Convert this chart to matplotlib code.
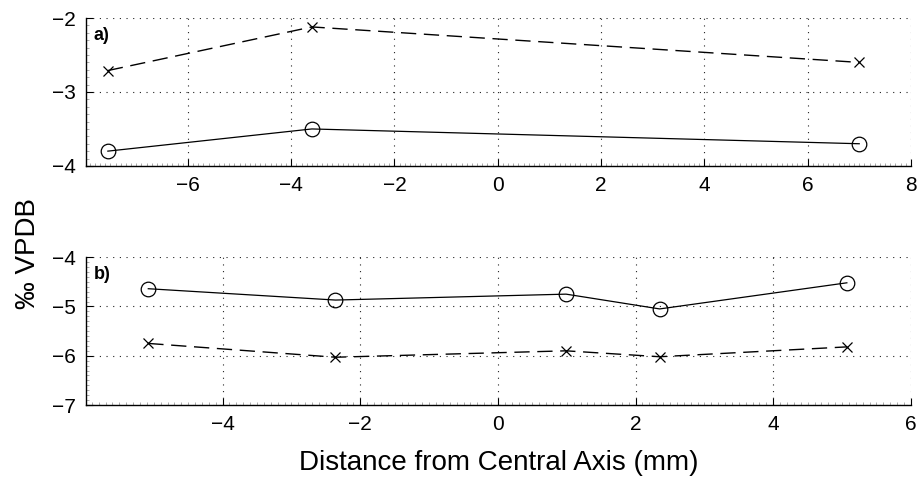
import matplotlib
matplotlib.use("Agg")
import matplotlib.pyplot as plt
from matplotlib.ticker import MultipleLocator

plt.rcParams['font.family'] = ['Liberation Sans', 'DejaVu Sans']

# Panel a
xa = [-7.55, -3.6, 7.0]
a_circle = [-3.80, -3.50, -3.70]
a_cross = [-2.71, -2.12, -2.60]

# Panel b
xb = [-5.08, -2.36, 0.99, 2.35, 5.07]
b_circle = [-4.64, -4.87, -4.75, -5.05, -4.52]
b_cross = [-5.75, -6.03, -5.90, -6.02, -5.82]

xticks_a = [-6, -4, -2, 0, 2, 4, 6, 8]
yticks_a = [-4, -3, -2]
xticks_b = [-4, -2, 0, 2, 4, 6]
yticks_b = [-7, -6, -5, -4]

fig = plt.figure(figsize=(9.21, 4.88), dpi=100)
ax1 = fig.add_axes([0.093, 0.660, 0.896, 0.303])
ax2 = fig.add_axes([0.093, 0.170, 0.896, 0.303])

def fmt(t):
    return ('\u2212' + str(abs(t))) if t < 0 else str(t)

def style(ax, xlim, ylim, xticks, yticks, label):
    ax.set_xlim(*xlim)
    ax.set_ylim(*ylim)
    ax.set_xticks(xticks)
    ax.set_yticks(yticks)
    ax.xaxis.set_minor_locator(MultipleLocator(0.1))
    ax.yaxis.set_minor_locator(MultipleLocator(0.1))
    ax.grid(True, which='major', linestyle=(0, (1, 5)), color='#222222', linewidth=0.8)
    for s in ['top', 'right']:
        ax.spines[s].set_visible(False)
    for s in ['left', 'bottom']:
        ax.spines[s].set_linewidth(1.0)
    ax.tick_params(which='major', direction='in', length=5, width=0.8, labelsize=15,
                   top=False, right=False, pad=7)
    ax.tick_params(which='minor', direction='in', length=2, width=0.5, color='#888888',
                   top=False, right=False)
    ax.set_xticklabels([fmt(t) for t in xticks])
    ax.set_yticklabels([fmt(t) for t in yticks])
    ax.text(8 / ax.bbox.width * 1.0, 1 - 9 / (0.303 * 488), label, transform=ax.transAxes,
            fontsize=13, fontweight='bold', va='top', ha='left')

ax1.plot(xa, a_circle, color='black', linewidth=0.9, marker='o', markersize=10.5,
         markerfacecolor='none', markeredgewidth=0.9)
ax1.plot(xa, a_cross, color='black', linewidth=1.0, linestyle=(0, (11, 5.5)), marker='x',
         markersize=7.5, markeredgewidth=0.9)
style(ax1, (-7.98, 8), (-4, -2), xticks_a, yticks_a, 'a)')

ax2.plot(xb, b_circle, color='black', linewidth=0.9, marker='o', markersize=10.5,
         markerfacecolor='none', markeredgewidth=0.9)
ax2.plot(xb, b_cross, color='black', linewidth=1.0, linestyle=(0, (11, 5.5)), marker='x',
         markersize=7.5, markeredgewidth=0.9)
style(ax2, (-5.99, 6), (-7, -4), xticks_b, yticks_b, 'b)')

ax2.set_xlabel('Distance from Central Axis (mm)', fontsize=20, labelpad=12)
fig.text(0.030, 0.48, '\u2030 VPDB', rotation=90, fontsize=20, ha='center', va='center')

fig.savefig('out.png', dpi=100)
